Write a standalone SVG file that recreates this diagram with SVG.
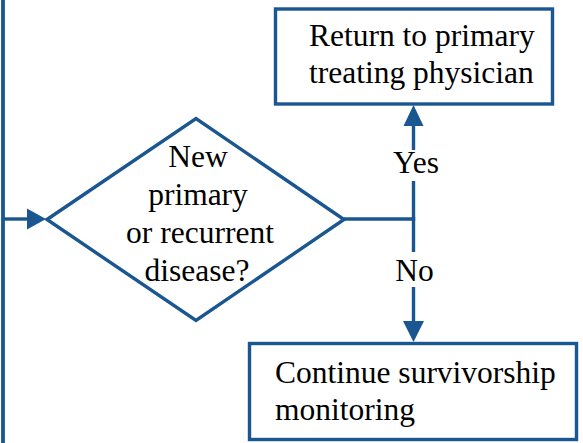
<svg xmlns="http://www.w3.org/2000/svg" width="583" height="443" viewBox="0 0 583 443">
<style>
.box{fill:#fff;stroke:#1a5690;stroke-width:3.4}
.ln{fill:none;stroke:#1a5690;stroke-width:3.4}
.ah{fill:#1a5690;stroke:none}
.c{text-anchor:middle}
</style>
<rect width="583" height="443" fill="#fff"/>
<g id="connectors">
<line class="ln" x1="3" y1="0" x2="3" y2="443" style="stroke-width:3.8"/>
<line class="ln" x1="3" y1="219" x2="30" y2="219"/>
<polygon class="ah" points="46,219 27,208.5 27,229.5"/>
<polyline class="ln" points="344,219 413.5,219"/>
<line class="ln" x1="413.5" y1="221" x2="413.5" y2="181"/>
<line class="ln" x1="413.5" y1="150" x2="413.5" y2="122"/>
<polygon class="ah" points="413.5,105 403.5,126 423.5,126"/>
<line class="ln" x1="413.5" y1="217" x2="413.5" y2="252"/>
<line class="ln" x1="413.5" y1="287" x2="413.5" y2="325"/>
<polygon class="ah" points="413.5,342 403,321 424,321"/>
<g font-family="Liberation Serif, Times New Roman, DejaVu Serif, serif" font-size="31.5" fill="#000" text-anchor="middle">
<text x="416" y="173">Yes</text>
<text x="414.5" y="281">No</text>
</g>
</g>
<g id="decision">
<polygon class="box" points="47,219.5 196,118.5 344,219.5 196,320.5"/>
<g font-family="Liberation Serif, Times New Roman, DejaVu Serif, serif" font-size="31.5" fill="#000" text-anchor="middle">
<text x="198" y="167">New</text>
<text x="198" y="205">primary</text>
<text x="200" y="243">or recurrent</text>
<text x="197" y="281">disease?</text>
</g>
</g>
<g id="return">
<rect class="box" x="275.5" y="9" width="277" height="95"/>
<g font-family="Liberation Serif, Times New Roman, DejaVu Serif, serif" font-size="31.5" fill="#000">
<text x="309" y="46">Return to primary</text>
<text x="309" y="83">treating physician</text>
</g>
</g>
<g id="continue">
<rect class="box" x="249.5" y="343.5" width="327" height="96"/>
<g font-family="Liberation Serif, Times New Roman, DejaVu Serif, serif" font-size="31.5" fill="#000">
<text x="275" y="383">Continue survivorship</text>
<text x="275" y="420">monitoring</text>
</g>
</g>
</svg>
